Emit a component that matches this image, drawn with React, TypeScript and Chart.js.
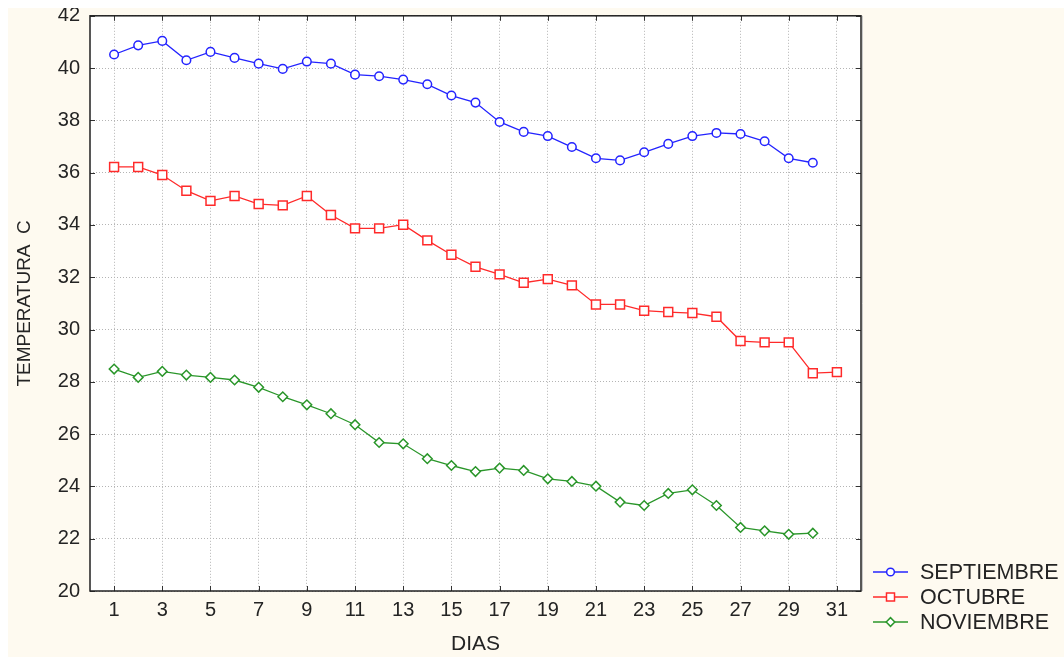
import React, { useEffect, useRef } from 'react';
import { Chart, registerables } from 'chart.js';
import { drawPoint } from 'chart.js/helpers';

Chart.register(...registerables);

const days = [1, 2, 3, 4, 5, 6, 7, 8, 9, 10, 11, 12, 13, 14, 15, 16, 17, 18, 19, 20, 21, 22, 23, 24, 25, 26, 27, 28, 29, 30, 31];
const xTickValues = [1, 3, 5, 7, 9, 11, 13, 15, 17, 19, 21, 23, 25, 27, 29, 31];

const septiembre = [40.52, 40.87, 41.04, 40.3, 40.62, 40.39, 40.17, 39.97, 40.25, 40.17, 39.75, 39.69, 39.56, 39.38, 38.95, 38.68, 37.94, 37.56, 37.4, 36.98, 36.55, 36.47, 36.78, 37.1, 37.4, 37.52, 37.48, 37.2, 36.55, 36.38];
const octubre = [36.22, 36.22, 35.91, 35.31, 34.92, 35.11, 34.8, 34.75, 35.11, 34.38, 33.87, 33.87, 34.01, 33.41, 32.86, 32.4, 32.11, 31.79, 31.93, 31.69, 30.96, 30.96, 30.72, 30.67, 30.63, 30.49, 29.56, 29.51, 29.51, 28.33, 28.37];
const noviembre = [28.49, 28.17, 28.4, 28.26, 28.17, 28.07, 27.79, 27.43, 27.12, 26.78, 26.36, 25.68, 25.63, 25.06, 24.8, 24.57, 24.7, 24.61, 24.29, 24.19, 24.01, 23.4, 23.27, 23.73, 23.87, 23.27, 22.43, 22.3, 22.17, 22.21];

const seriesLabels = ['SEPTIEMBRE', 'OCTUBRE', 'NOVIEMBRE'];
const seriesColors = ['#2424ff', '#ff2a2a', '#2a962a'];
const seriesStyles = ['circle', 'rect', 'rectRot'];
const seriesRadius = [4.3, 6.3, 4.8];

const xTitle = 'DIAS';
const yTitle = 'TEMPERATURA  C';

const TEXT = '#242424';
const FONT = "'Liberation Sans', Arial, sans-serif";

const plotBg = {
  id: 'plotBg',
  beforeDraw(chart: any) {
    const { ctx, chartArea: a } = chart;
    ctx.save();
    ctx.fillStyle = '#ffffff';
    ctx.fillRect(a.left, a.top, a.right - a.left, a.bottom - a.top);
    ctx.restore();
  },
};

const frame = {
  id: 'frame',
  afterDraw(chart: any) {
    const { ctx, chartArea: a, scales } = chart;
    ctx.save();
    ctx.strokeStyle = '#333';
    ctx.lineWidth = 1;
    const tl = 5;
    ctx.beginPath();
    scales.x.ticks.forEach((t: any) => {
      const px = Math.round(scales.x.getPixelForValue(t.value)) + 0.5;
      ctx.moveTo(px, a.bottom);
      ctx.lineTo(px, a.bottom - tl);
      ctx.moveTo(px, a.top);
      ctx.lineTo(px, a.top + tl);
    });
    scales.y.ticks.forEach((t: any) => {
      const py = Math.round(scales.y.getPixelForValue(t.value)) + 0.5;
      ctx.moveTo(a.left, py);
      ctx.lineTo(a.left + tl, py);
      ctx.moveTo(a.right, py);
      ctx.lineTo(a.right - tl, py);
    });
    ctx.stroke();
    ctx.strokeStyle = '#c8c8c8';
    ctx.lineWidth = 1;
    ctx.beginPath();
    ctx.moveTo(a.right + 1.5, a.top);
    ctx.lineTo(a.right + 1.5, a.bottom);
    ctx.stroke();
    ctx.strokeStyle = '#202020';
    ctx.lineWidth = 1.5;
    ctx.strokeRect(a.left, a.top, a.right - a.left, a.bottom - a.top);
    ctx.restore();
  },
};

const customLegend = {
  id: 'customLegend',
  afterDraw(chart: any) {
    const { ctx, chartArea: a } = chart;
    const x0 = a.right + 12;
    const y0 = a.bottom - 19;
    const gap = 25;
    ctx.save();
    chart.data.datasets.forEach((ds: any, i: number) => {
      const y = y0 + i * gap;
      ctx.strokeStyle = ds.borderColor;
      ctx.lineWidth = 1.3;
      ctx.beginPath();
      ctx.moveTo(x0, y);
      ctx.lineTo(x0 + 35, y);
      ctx.stroke();
      ctx.fillStyle = '#ffffff';
      ctx.strokeStyle = ds.borderColor;
      ctx.lineWidth = 1.5;
      drawPoint(ctx, { pointStyle: ds.pointStyle, radius: ds.pointRadius * 0.9, rotation: 0, borderWidth: 1.5 }, x0 + 17.5, y);
      ctx.fillStyle = TEXT;
      ctx.font = `21.5px ${FONT}`;
      ctx.textAlign = 'left';
      ctx.textBaseline = 'middle';
      ctx.fillText(ds.label, x0 + 47, y + 1);
    });
    ctx.restore();
  },
};

export default function App() {
  const ref = useRef<HTMLCanvasElement>(null);

  useEffect(() => {
    const canvas = ref.current;
    if (!canvas) return;
    const seriesValues = [septiembre, octubre, noviembre];
    const datasets = seriesValues.map((vals, i) => ({
      label: seriesLabels[i],
      data: vals.map((v, j) => ({ x: days[j], y: v })),
      borderColor: seriesColors[i],
      backgroundColor: '#ffffff',
      borderWidth: 1.3,
      pointStyle: seriesStyles[i],
      pointRadius: seriesRadius[i],
      pointBorderWidth: 1.5,
      pointBackgroundColor: '#ffffff',
      pointBorderColor: seriesColors[i],
      tension: 0,
      fill: false,
    }));

    const chart = new Chart(canvas, {
      type: 'line',
      data: { datasets },
      plugins: [plotBg, frame, customLegend],
      options: {
        animation: false,
        responsive: true,
        maintainAspectRatio: false,
        devicePixelRatio: 1,
        layout: { padding: { left: 0, top: 7.5, right: 203, bottom: 0 } },
        plugins: {
          legend: { display: false },
          tooltip: { enabled: false },
        },
        scales: {
          x: {
            type: 'linear',
            min: 0,
            max: 32,
            afterBuildTicks: (scale: any) => {
              scale.ticks = xTickValues.map((v) => ({ value: v }));
            },
            afterFit: (scale: any) => {
              scale.height = 66;
              scale.paddingLeft = 0;
              scale.paddingRight = 0;
            },
            ticks: {
              autoSkip: false,
              maxRotation: 0,
              padding: 7,
              color: TEXT,
              font: { family: FONT, size: 20 },
              callback: (v: any) => String(v),
            },
            grid: { color: '#b4b4b4', lineWidth: 1, drawTicks: false },
            border: { display: false, dash: [1, 2] },
            title: {
              display: true,
              text: xTitle,
              color: TEXT,
              font: { family: FONT, size: 21 },
              padding: { top: 0, bottom: 0 },
            },
          },
          y: {
            type: 'linear',
            min: 20,
            max: 42,
            afterFit: (scale: any) => {
              scale.width = 82;
              scale.paddingTop = 0;
              scale.paddingBottom = 0;
            },
            ticks: {
              stepSize: 2,
              padding: 10,
              color: TEXT,
              font: { family: FONT, size: 20 },
            },
            grid: { color: '#b4b4b4', lineWidth: 1, drawTicks: false },
            border: { display: false, dash: [1, 2] },
            title: {
              display: true,
              text: yTitle,
              color: TEXT,
              font: { family: FONT, size: 19 },
              padding: { top: 5.5, bottom: 0 },
            },
          },
        },
      },
    } as any);

    return () => chart.destroy();
  }, []);

  return (
    <div
      style={{
        position: 'fixed',
        left: 8,
        top: 8,
        width: 1056,
        height: 649,
        background: '#fefaf0',
      }}
    >
      <canvas ref={ref} />
    </div>
  );
}
